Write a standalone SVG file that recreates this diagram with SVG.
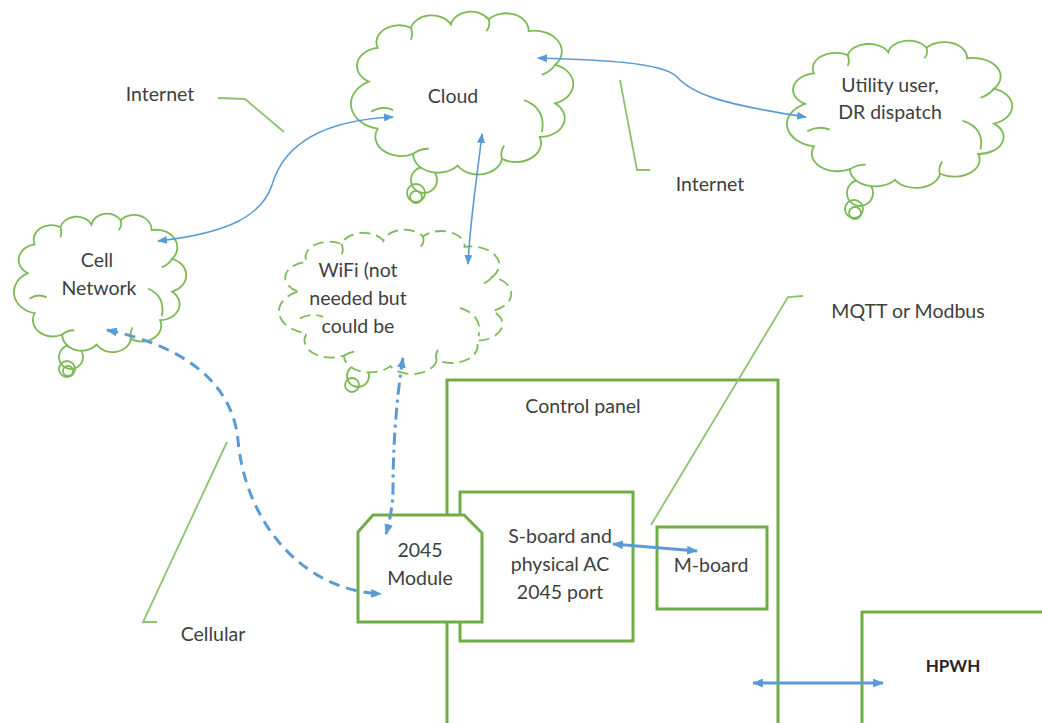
<svg xmlns="http://www.w3.org/2000/svg" width="1042" height="723" viewBox="0 0 1042 723">
<style>
.t{font-family:Lato,"Liberation Sans",sans-serif;font-size:19.5px;fill:#404040;text-anchor:middle;dominant-baseline:middle}
.b{font-weight:bold;font-size:17px;fill:#262626}
.cl{fill:#fff;stroke:#7DB957;stroke-width:1.8}
.hk{fill:none;stroke:#7DB957;stroke-width:1.8}
.dash{stroke-dasharray:11 6}
.ci{fill:none;stroke:#7DB957;stroke-width:1.8}
.box{fill:#fff;stroke:#70AD47;stroke-width:3}
.co{fill:none;stroke:#8DC26F;stroke-width:1.8}
.ar{fill:none;stroke:#5B9BD5;stroke-width:3}
.as{fill:none;stroke:#5B9BD5;stroke-width:1.6}
</style>
<defs>
<path id="cloud" vector-effect="non-scaling-stroke" d="M8,42 A10.8,10.8 0 0 1 12,22 A10.2,10.2 0 0 1 27,10 A9.6,9.6 0 0 1 45,8 A9.2,9.2 0 0 1 62,5 A10.2,10.2 0 0 1 80,12 A12.3,12.3 0 0 1 92,32 A12.2,12.2 0 0 1 92,55 A11.2,11.2 0 0 1 85,75 A11.3,11.3 0 0 1 68,88 A10.8,10.8 0 0 1 48,92 A11.2,11.2 0 0 1 28,85 A11.6,11.6 0 0 1 12,70 A15,15 0 0 1 8,42 Z"/>
<path id="hooks" vector-effect="non-scaling-stroke" d="M9,60 Q14,56 19,59 M27,10 Q28,14 27,17 M62,5 Q63,9 61,12 M92,32 Q90,36 86,38 M78,53 Q88,58 86,72 M68,88 Q67,84 69,80 M28,85 Q31,82 35,82"/>
<marker id="ah" viewBox="0 0 10 8" refX="9" refY="4" markerWidth="11" markerHeight="9" markerUnits="userSpaceOnUse" orient="auto-start-reverse"><path d="M0,0 L10,4 L0,8 z" fill="#5B9BD5"/></marker>
<marker id="as" viewBox="0 0 10 8" refX="9" refY="4" markerWidth="10" markerHeight="8" markerUnits="userSpaceOnUse" orient="auto-start-reverse"><path d="M0,0 L10,4 L0,8 z" fill="#5B9BD5"/></marker>
</defs>

<g id="cloud-node">
<circle class="ci" cx="424" cy="180" r="13"/>
<circle class="ci" cx="416" cy="193" r="9"/>
<circle class="ci" cx="416" cy="197" r="6"/>
<g transform="translate(351,11) scale(2.22,1.68)"><use href="#cloud" class="cl"/><use href="#hooks" class="hk"/></g>
<text class="t" x="453" y="98">Cloud</text>
</g>

<g id="utility-node">
<circle class="ci" cx="860" cy="193" r="13"/>
<circle class="ci" cx="854" cy="209" r="9"/>
<circle class="ci" cx="855" cy="213" r="6"/>
<g transform="translate(787,40) scale(2.25,1.52)"><use href="#cloud" class="cl"/><use href="#hooks" class="hk"/></g>
<text class="t" x="890" y="87">Utility user,</text>
<text class="t" x="890" y="114">DR dispatch</text>
</g>

<g id="cell-node">
<circle class="ci" cx="71" cy="357" r="12"/>
<circle class="ci" cx="67" cy="369" r="8"/>
<circle class="ci" cx="68" cy="371" r="5"/>
<g transform="translate(14,213) scale(1.72,1.43)"><use href="#cloud" class="cl"/><use href="#hooks" class="hk"/></g>
<text class="t" x="97" y="262">Cell</text>
<text class="t" x="99" y="290">Network</text>
</g>

<g id="wifi-node">
<circle class="ci" cx="358" cy="376" r="11"/>
<circle class="ci" cx="352" cy="385" r="7"/>
<g transform="translate(279,229) scale(2.32,1.49)"><use href="#cloud" class="cl dash"/><use href="#hooks" class="hk dash"/></g>
<text class="t" x="358" y="272">WiFi (not</text>
<text class="t" x="358" y="300">needed but</text>
<text class="t" x="358" y="328">could be</text>
</g>

<g id="control-panel">
<rect class="box" x="447" y="380" width="331" height="350"/>
<text class="t" x="583" y="408">Control panel</text>
</g>

<g id="s-board">
<rect class="box" x="460" y="492" width="173" height="149"/>
<text class="t" x="560" y="538">S-board and</text>
<text class="t" x="560" y="566">physical AC</text>
<text class="t" x="560" y="594">2045 port</text>
</g>

<g id="module-2045">
<path class="box" d="M358,532 L373,515 L464,515 L482,533 L482,622 L358,622 Z"/>
<text class="t" x="420" y="552">2045</text>
<text class="t" x="420" y="580">Module</text>
</g>

<g id="m-board">
<rect class="box" x="657" y="527" width="110" height="82"/>
<text class="t" x="711" y="567">M-board</text>
</g>

<g id="hpwh">
<rect class="box" x="862" y="612" width="200" height="130"/>
<text class="t b" x="953" y="668">HPWH</text>
</g>

<g id="callouts">
<path class="co" d="M218,98 L245,99 L284,132"/>
<text class="t" x="160" y="96">Internet</text>
<path class="co" d="M620,80 L637,170 L650,170"/>
<text class="t" x="710" y="186">Internet</text>
<path class="co" d="M803,296 L788,297 L651,525"/>
<text class="t" x="908" y="313">MQTT or Modbus</text>
<path class="co" d="M227,442 L143,622 L157,622"/>
<text class="t" x="213" y="636">Cellular</text>
</g>

<g id="connectors">
<path class="as" marker-start="url(#as)" marker-end="url(#as)" d="M158,241 C230,233 262,215 272,185 C285,140 330,120 393,117"/>
<path class="as" marker-start="url(#as)" marker-end="url(#as)" d="M538,58 C600,60 660,62 676,76 C692,94 720,104 806,117"/>
<path class="as" marker-start="url(#as)" marker-end="url(#as)" d="M482,134 C478,170 470,220 468,264"/>
<path class="ar" stroke-dasharray="12 5 3 5" marker-start="url(#ah)" marker-end="url(#ah)" d="M403,358 C396,400 393,450 393,487 C393,505 390,520 386,534"/>
<path class="ar" stroke-dasharray="11 7" marker-start="url(#ah)" marker-end="url(#ah)" d="M107,330 C180,345 232,380 238,440 C245,520 300,590 381,594"/>
<path class="ar" marker-start="url(#ah)" marker-end="url(#ah)" d="M613,544 L697,551"/>
<path class="ar" marker-start="url(#ah)" marker-end="url(#ah)" d="M753,683 L883,683"/>
</g>
</svg>
